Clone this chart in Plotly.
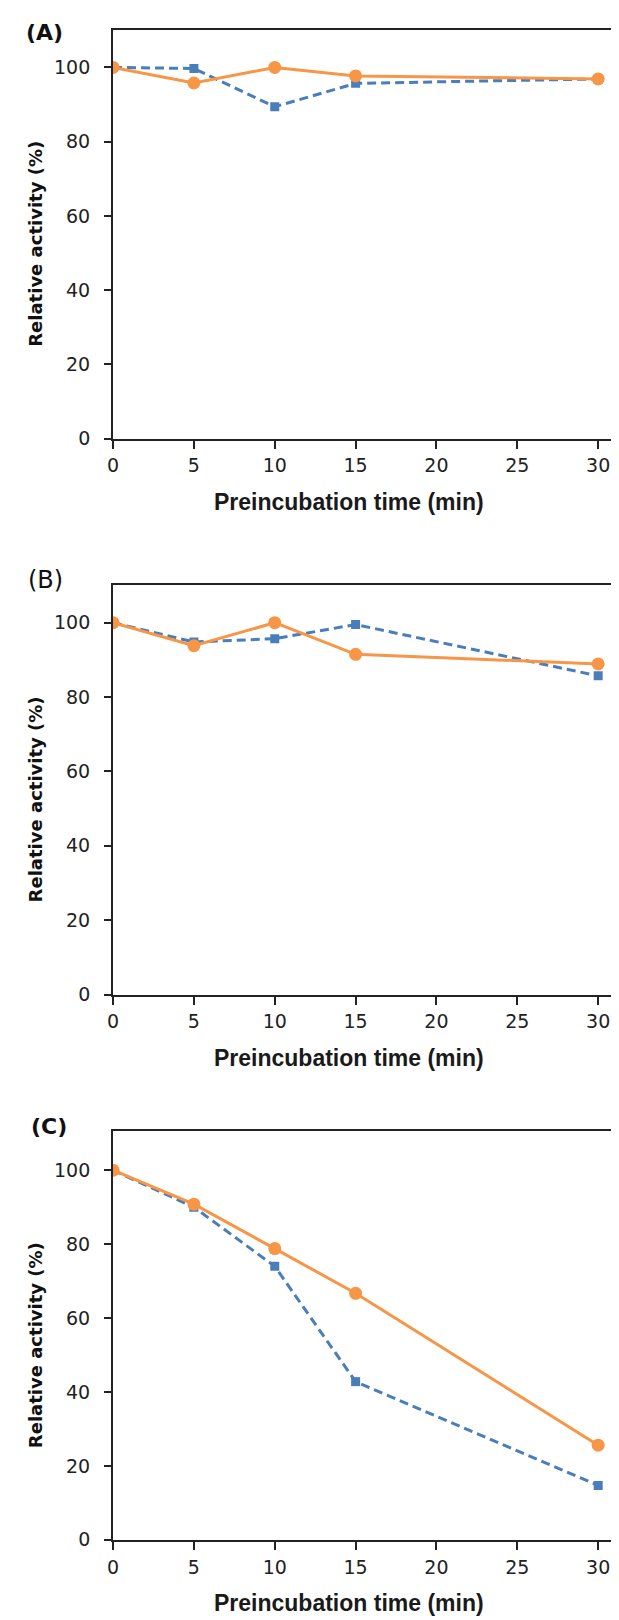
import plotly.graph_objects as go

# ---- data ----
time_min = [0, 5, 10, 15, 30]
a_blue = [100, 99.7, 89.4, 95.7, 96.9]
a_orange = [100, 95.8, 100, 97.7, 96.9]
b_blue = [100, 94.8, 95.7, 99.5, 85.7]
b_orange = [100, 93.8, 100, 91.5, 88.9]
c_blue = [100, 90.0, 74.0, 42.8, 14.7]
c_orange = [100, 90.8, 78.8, 66.7, 25.6]
x_ticks = [0, 5, 10, 15, 20, 25, 30]
y_ticks = [0, 20, 40, 60, 80, 100]
panel_labels = ["(A)", "(B)", "(C)"]
x_title = "Preincubation time (min)"
y_title = "Relative activity (%)"

BLUE = "#4a7ebb"
ORANGE = "#f79646"
W, H = 619, 1620

panels = [
    dict(blue=a_blue, orange=a_orange, top=21.7, bottom=433.5, ymax=110.2),
    dict(blue=b_blue, orange=b_orange, top=580.7, bottom=993.3, ymax=110.2),
    dict(blue=c_blue, orange=c_orange, top=1130.7, bottom=1542.3, ymax=110.6),
]
label_pos = [(10, 25, True), (12, 576, False), (15, 1126, True)]
x_left = 100
x_unit = 16.33
x_max = (W - x_left) / x_unit

fig = go.Figure()
tick_font = dict(family="DejaVu Sans, sans-serif", size=19, color="#222")

for i, p in enumerate(panels):
    s = "" if i == 0 else str(i + 1)
    fig.add_trace(go.Scatter(
        x=time_min, y=p["blue"], xaxis="x" + s, yaxis="y" + s, mode="lines+markers",
        line=dict(color=BLUE, width=3, dash="9px,5px"),
        marker=dict(symbol="square", size=9, color=BLUE), showlegend=False))
    fig.add_trace(go.Scatter(
        x=time_min, y=p["orange"], xaxis="x" + s, yaxis="y" + s, mode="lines+markers",
        line=dict(color=ORANGE, width=3),
        marker=dict(symbol="circle", size=13, color=ORANGE), showlegend=False))
    y0 = 1 - p["bottom"] / H
    y1 = 1 - p["top"] / H
    fig.layout["xaxis" + s] = dict(
        domain=[x_left / W, 1], range=[0, x_max], anchor="y" + s,
        tickvals=x_ticks, ticks="outside", ticklen=8, tickwidth=1.5, tickcolor="#222",
        showline=True, linecolor="#222", linewidth=2, mirror=True,
        showgrid=False, zeroline=False, tickfont=tick_font, ticklabelstandoff=1)
    fig.layout["yaxis" + s] = dict(
        domain=[y0, y1], range=[0, p["ymax"]], anchor="x" + s,
        tickvals=y_ticks, ticks="outside", ticklen=7, tickwidth=1.5, tickcolor="#222",
        showline=True, linecolor="#222", linewidth=2,
        showgrid=False, zeroline=False, tickfont=tick_font, ticklabelstandoff=10)
    # x title
    fig.add_annotation(
        x=14.6, xref="x" + s, y=1 - (p["bottom"] + 64) / H, yref="paper",
        text=x_title, showarrow=False, xanchor="center", yanchor="middle",
        font=dict(family="Liberation Sans, Arial, sans-serif", size=23, color="#1a1a1a", weight="bold"))
    # y title
    yc = (p["top"] + p["bottom"]) / 2 + 10
    fig.add_annotation(
        x=22 / W, xref="paper", y=1 - yc / H, yref="paper", textangle=-90,
        text=y_title, showarrow=False, xanchor="center", yanchor="middle",
        font=dict(family="DejaVu Sans, sans-serif", size=18, color="#111", weight="bold"))
    lx, ly, bold = label_pos[i]
    fig.add_annotation(
        x=lx / W, xref="paper", y=1 - ly / H, yref="paper",
        text=panel_labels[i], showarrow=False, xanchor="left", yanchor="middle",
        font=dict(family="DejaVu Sans, sans-serif", size=22 if bold else 24, color="#111",
                  weight="bold" if bold else "normal"))

fig.update_layout(
    width=W, height=H, margin=dict(l=0, r=0, t=0, b=0),
    paper_bgcolor="white", plot_bgcolor="white")

fig.write_html("out.html")
